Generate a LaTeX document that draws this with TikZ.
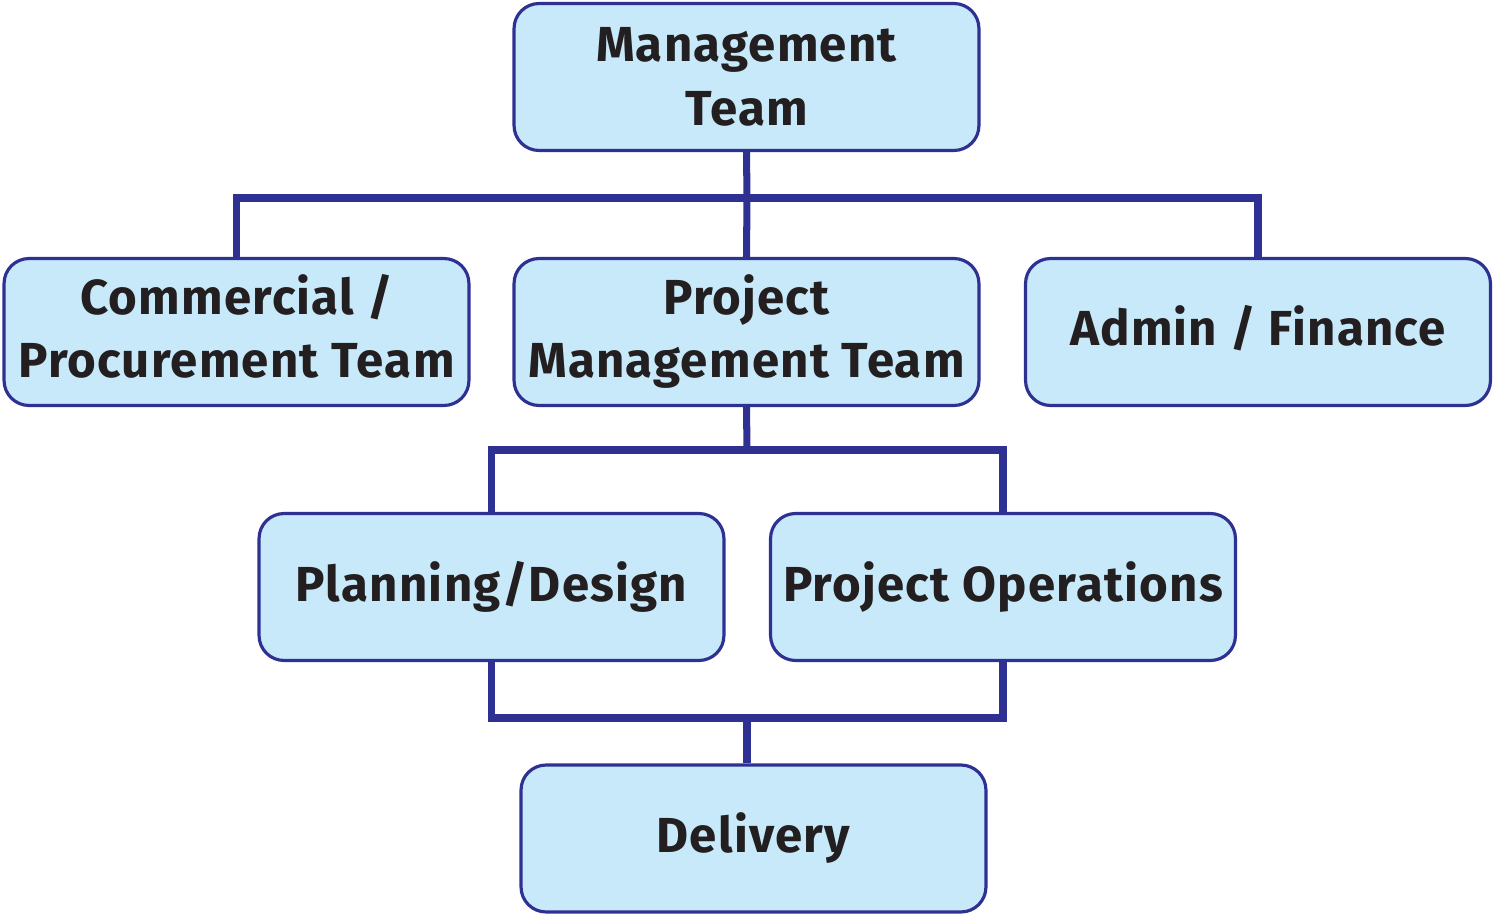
\documentclass[tikz,border=0pt]{standalone}
\usepackage{fontspec}
\setmainfont{Fira Sans}[BoldFont={Fira Sans Bold},BoldFeatures={LetterSpace=2.5}]
\definecolor{boxfill}{HTML}{C7E9FA}
\definecolor{boxline}{HTML}{2E3192}
\definecolor{txt}{HTML}{231F20}
\begin{document}
\begin{tikzpicture}[x=0.02cm,y=-0.02cm,
  box/.style={draw=boxline,fill=boxfill,line width=1.8pt,rounded corners=0.5cm,
    minimum width=9.3cm,minimum height=2.94cm,align=center,inner sep=0pt,
    font=\bfseries\fontsize{28}{36}\selectfont,text=txt},
  raised/.style={text depth=0.25cm},
  conn/.style={draw=boxline,line width=4pt}]
\useasboundingbox (0,0) rectangle (1495,915);
\node[box] (mt) at (746.5,77) {Management\\Team};
\node[box,raised] (cp) at (236.5,332) {Commercial /\\Procurement Team};
\node[box,raised] (pmt) at (746.5,332) {Project\\Management Team};
\node[box,raised] (af) at (1258,332) {Admin / Finance};
\node[box] (pd) at (491.5,587) {Planning/Design};
\node[box] (po) at (1003,587) {Project Operations};
\node[box] (dl) at (753.5,838.5) {Delivery};
\coordinate (b1) at (747,198);
\coordinate (b2) at (747,450);
\coordinate (b3) at (747,718);
\draw[conn] (mt.south) -- (b1);
\draw[conn] (cp.north) -- (cp.north |- b1) -- (af.north |- b1) -- (af.north);
\draw[conn] (b1) -- (pmt.north);
\draw[conn] (pmt.south) -- (b2);
\draw[conn] (pd.north) -- (pd.north |- b2) -- (po.north |- b2) -- (po.north);
\draw[conn] (pd.south) -- (pd.south |- b3) -- (po.south |- b3) -- (po.south);
\draw[conn] (b3) -- (b3 |- dl.north);
\end{tikzpicture}
\end{document}
